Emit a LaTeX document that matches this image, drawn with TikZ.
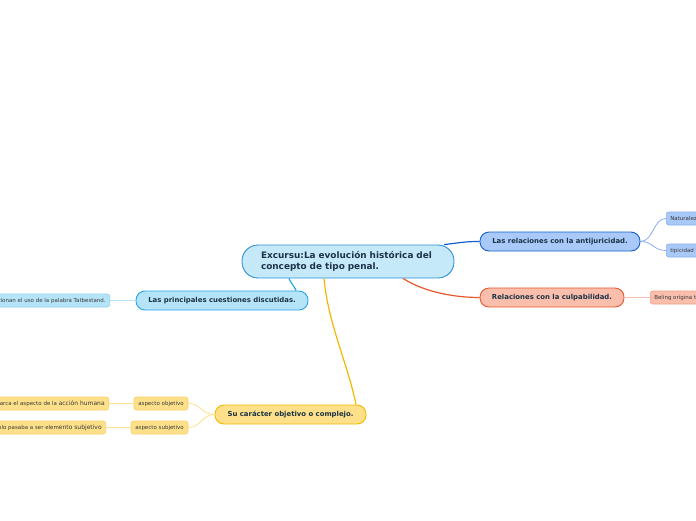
\documentclass[tikz,border=0pt]{standalone}
\usepackage{fontspec}
\setmainfont{DejaVu Sans}
\setsansfont{DejaVu Sans}

\definecolor{txtdark}{HTML}{1B3344}
\definecolor{txtleaf}{HTML}{3A3A3A}
\definecolor{centerfill}{HTML}{C6E9FA}
\definecolor{centerline}{HTML}{2A8FD6}
\definecolor{antifill}{HTML}{A9C9F9}
\definecolor{antiline}{HTML}{1560D0}
\definecolor{antileaf}{HTML}{86AEF0}
\definecolor{culpfill}{HTML}{F9BEAC}
\definecolor{culpline}{HTML}{E9572B}
\definecolor{culpleaf}{HTML}{F2A088}
\definecolor{princfill}{HTML}{B5E4F8}
\definecolor{princline}{HTML}{25A5E3}
\definecolor{princleaf}{HTML}{8ED3F3}
\definecolor{objfill}{HTML}{FDE089}
\definecolor{objline}{HTML}{F5B700}
\definecolor{objleaf}{HTML}{F7D166}

\tikzset{
  mainbox/.style={rounded corners=9pt, line width=0.9pt, minimum height=19pt,
    inner sep=0pt, text=txtdark, font=\fontsize{6.9}{8}\selectfont\bfseries},
  leafbox/.style={rounded corners=2.5pt, line width=0.6pt, minimum height=13pt,
    inner xsep=4pt, inner ysep=0pt, text=txtleaf, font=\fontsize{5.5}{6.5}\selectfont},
  conn/.style={line width=1.2pt},
  leafconn/.style={line width=0.8pt}
}

\begin{document}
\begin{tikzpicture}[x=1pt, y=-1pt]
	\useasboundingbox (0,0) rectangle (696,520);

	% 1. tema central
	\node[draw=centerline, fill=centerfill, rounded corners=16pt, line width=0.9pt,
	      minimum width=212pt, minimum height=33pt, inner xsep=19pt, inner ysep=0pt,
	      text width=174pt, align=left, text=txtdark,
	      font=\fontsize{8.9}{11}\selectfont\bfseries]
	      (central) at (348,261.5) {Excursu:La evolución histórica del\\concepto de tipo penal.};

	% 2. antijuricidad - azul
	\node[mainbox, draw=antiline, fill=antifill, minimum width=160pt] (anti) at (560,241.5)
	      {Las relaciones con la antijuricidad.};
	\node[leafbox, draw=antileaf, fill=antifill, anchor=west] (natur) at (666,218.5)
	      {Naturaleza del tipo};
	\node[leafbox, draw=antileaf, fill=antifill, anchor=west] (tipic) at (666,250.5)
	      {tipicidad y antijuricidad};
	\draw[conn, antiline] (central.10) .. controls +(18,-2) and +(-15,0) .. (anti.west);
	\draw[leafconn, antileaf] (anti.east) .. controls +(13,0) and +(-13,0) .. (natur.west);
	\draw[leafconn, antileaf] (anti.east) .. controls +(13,0) and +(-13,0) .. (tipic.west);

	% 3. culpabilidad - naranja
	\node[mainbox, draw=culpline, fill=culpfill, minimum width=144pt] (culp) at (552,297.5)
	      {Relaciones con la culpabilidad.};
	\node[leafbox, draw=culpleaf, fill=culpfill, anchor=west] (beling) at (650,297.5)
	      {Beling origina tipo};
	\draw[conn, culpline] ([xshift=55pt]central.south) .. controls +(22,14) and +(-24,0) .. (culp.west);
	\draw[leafconn, culpfill] (culp.east) -- (beling.west);

	% 4. cuestiones discutidas - celeste
	\node[mainbox, draw=princline, fill=princfill, minimum width=172pt] (princ) at (222,300.5)
	      {Las principales cuestiones discutidas.};
	\node[leafbox, draw=princleaf, fill=princfill, anchor=east] (tatb) at (110,300.5)
	      {Se cuestionan el uso de la palabra Tatbestand.};
	\draw[conn, princline] ([xshift=-59pt]central.south) .. controls +(2,5) and +(-2,-5) .. ([xshift=74pt]princ.north);
	\draw[leafconn, princfill] (princ.west) -- (tatb.east);

	% 5. caracter objetivo - amarillo
	\node[mainbox, draw=objline, fill=objfill, minimum width=151pt] (caract) at (290.5,414.5)
	      {Su carácter objetivo o complejo.};
	\node[leafbox, draw=objleaf, fill=objfill, minimum width=54pt] (aobj) at (161,403.5)
	      {aspecto objetivo};
	\node[leafbox, draw=objleaf, fill=objfill, minimum width=57pt] (asubj) at (159.5,427.5)
	      {aspecto subjetivo};
	\node[leafbox, draw=objleaf, fill=objfill, anchor=east] (accion) at (109,403.5)
	      {El tipo abarca el aspecto de la {\fontsize{6}{7}\selectfont acción humana}};
	\node[leafbox, draw=objleaf, fill=objfill, anchor=east] (dolo) at (106,427.5)
	      {el dolo pasaba a ser elem{\fontsize{6}{7}\selectfont ento subjetivo}};
	\draw[conn, objline] ([xshift=-24pt]central.south) .. controls +(4,45) and +(-8,-40) .. ([xshift=65.5pt]caract.north);
	\draw[leafconn, objfill] (caract.west) .. controls +(-13,0) and +(13,0) .. (aobj.east);
	\draw[leafconn, objfill] (caract.west) .. controls +(-13,0) and +(13,0) .. (asubj.east);
	\draw[leafconn, objfill] (aobj.west) -- (accion.east);
	\draw[leafconn, objfill] (asubj.west) -- (dolo.east);
\end{tikzpicture}
\end{document}
